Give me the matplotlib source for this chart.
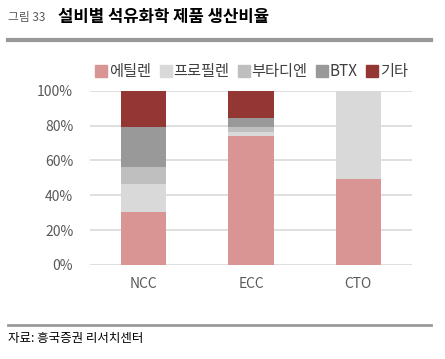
import numpy as np
import matplotlib
matplotlib.use("Agg")
from matplotlib import pyplot as plt
from matplotlib.lines import Line2D

plt.rcParams['font.family'] = ['Noto Sans CJK KR', 'DejaVu Sans']

categories = ['NCC', 'ECC', 'CTO']
series_names = ['에틸렌', '프로필렌', '부타디엔', 'BTX', '기타']
ethylene = [30.4, 74.0, 49.3]
propylene = [16.1, 2.5, 50.7]
butadiene = [9.7, 2.7, 0.0]
btx = [23.1, 5.1, 0.0]
other = [20.7, 15.7, 0.0]
colors = ['#D99594', '#D9D9D9', '#BFBFBF', '#999999', '#943634']

fig = plt.figure(figsize=(4.45, 3.59), dpi=100)
ax = fig.add_axes([0.202, 0.262, 0.724, 0.485])

x = np.arange(len(categories))
bottom = np.zeros(len(categories))
for vals, c in zip([ethylene, propylene, butadiene, btx, other], colors):
    ax.bar(x, vals, width=0.42, bottom=bottom, color=c, zorder=3)
    bottom += np.array(vals)

ax.set_xlim(-0.5, 2.5)
ax.set_ylim(0, 100)
ax.set_yticks(range(0, 101, 20))
ax.set_yticklabels(['%d%%' % v for v in range(0, 101, 20)])
ax.set_xticks(x)
ax.set_xticklabels(categories)
ax.tick_params(length=0, labelsize=10, colors='#595959', pad=12)
ax.tick_params(axis='x', pad=9)
ax.grid(axis='y', color='#D9D9D9', linewidth=1.2, zorder=0)
for s in ax.spines.values():
    s.set_visible(False)

handles = [Line2D([], [], marker='s', linestyle='', markersize=9, color=c) for c in colors]
fig.legend(handles, series_names, loc='center', bbox_to_anchor=(0.566, 0.8), ncol=5,
           frameon=False, handlelength=0.75, handletextpad=0.15, columnspacing=0.55,
           prop={'size': 11}, labelcolor='#404040')

# header / footer
fig.text(0.018, 0.952, '그림 33', fontsize=8.5, color='#595959', va='center')
fig.text(0.13, 0.952, '설비별 석유화학 제품 생산비율', fontsize=12, fontweight='bold', color='black', va='center')
fig.add_artist(Line2D([0.018, 0.969], [0.888, 0.888], color='#999999', linewidth=3, transform=fig.transFigure))
fig.add_artist(Line2D([0.018, 0.969], [0.095, 0.095], color='#999999', linewidth=2, transform=fig.transFigure))
fig.text(0.018, 0.058, '자료: 흥국증권 리서치센터', fontsize=9, color='black', va='center')

plt.savefig('out.png', dpi=100)
